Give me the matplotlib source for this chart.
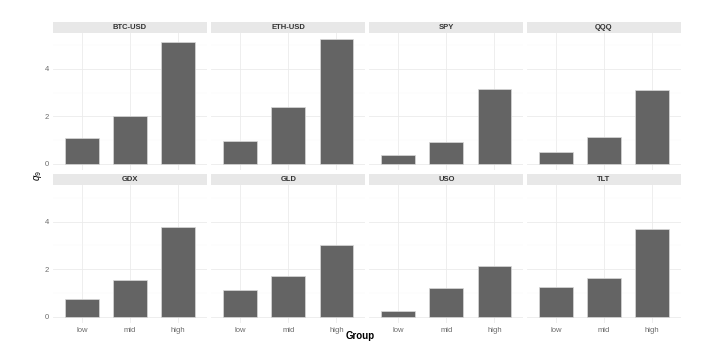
import matplotlib.pyplot as plt
import numpy as np

plt.rcParams["font.family"] = ["Liberation Sans", "DejaVu Sans"]
plt.rcParams["mathtext.fontset"] = "custom"
plt.rcParams["mathtext.rm"] = "Liberation Sans"
plt.rcParams["mathtext.it"] = "Liberation Sans:italic"

tickers = ["BTC-USD", "ETH-USD", "SPY", "QQQ", "GDX", "GLD", "USO", "TLT"]
groups = ["low", "mid", "high"]

btc = [1.08, 2.02, 5.14]
eth = [0.95, 2.39, 5.26]
spy = [0.38, 0.91, 3.14]
qqq = [0.51, 1.15, 3.10]
gdx = [0.76, 1.53, 3.78]
gld = [1.12, 1.71, 3.00]
uso = [0.25, 1.23, 2.13]
tlt = [1.25, 1.63, 3.68]
values = [btc, eth, spy, qqq, gdx, gld, uso, tlt]

W, H = 716, 347
fig = plt.figure(figsize=(W / 100, H / 100), dpi=100)
fig.patch.set_facecolor("white")

# panel geometry in pixels
lefts = [53, 211.3, 369.3, 527]
pw = 154
rows = [(32.6, 170.2, 21.5), (185.3, 323.2, 174.3)]  # panel top, panel bottom, strip top

ymax = max(max(v) for v in values)
ylim = (-0.05 * ymax, ymax * 1.05)
x = np.arange(len(groups))

for i, (name, vals) in enumerate(zip(tickers, values)):
    r, c = divmod(i, 4)
    top, bot, stop = rows[r]
    ax = fig.add_axes([lefts[c] / W, 1 - bot / H, pw / W, (bot - top) / H])
    ax.set_facecolor("white")
    ax.bar(x, vals, width=0.7, color="#646464", edgecolor="#d9d9d9", linewidth=0.5, zorder=3)
    ax.set_xlim(-0.6, 2.6)
    ax.set_ylim(*ylim)
    ax.set_yticks([0, 2, 4])
    ax.set_yticks([1, 3, 5], minor=True)
    ax.set_xticks(x)
    ax.grid(which="major", color="#ebebeb", linewidth=0.6, zorder=0)
    ax.grid(which="minor", axis="y", color="#f7f7f7", linewidth=0.3, zorder=0)
    for s in ax.spines.values():
        s.set_visible(False)
    ax.tick_params(which="both", length=0, labelsize=5.5, labelcolor="#6b6b6b", pad=3)
    if c == 0:
        ax.set_yticklabels(["0", "2", "4"])
    else:
        ax.set_yticklabels([])
    if r == 1:
        ax.set_xticklabels(groups)
    else:
        ax.set_xticklabels([])

    sax = fig.add_axes([lefts[c] / W, 1 - top / H, pw / W, (top - stop) / H])
    sax.set_facecolor("#e8e8e8")
    sax.set_xticks([])
    sax.set_yticks([])
    for s in sax.spines.values():
        s.set_visible(False)
    sax.text(0.5, 0.5, name, ha="center", va="center", fontsize=5.5, fontweight="bold",
             color="#333333", transform=sax.transAxes)

fig.text(360 / W, 1 - 336 / H, "Group", ha="center", va="center", fontsize=7,
         fontweight="bold", color="black")
fig.text(38 / W, 1 - 176 / H, "$q_9$", ha="center", va="center", fontsize=7,
         rotation=90, color="black")

fig.savefig("out.png", dpi=100)
